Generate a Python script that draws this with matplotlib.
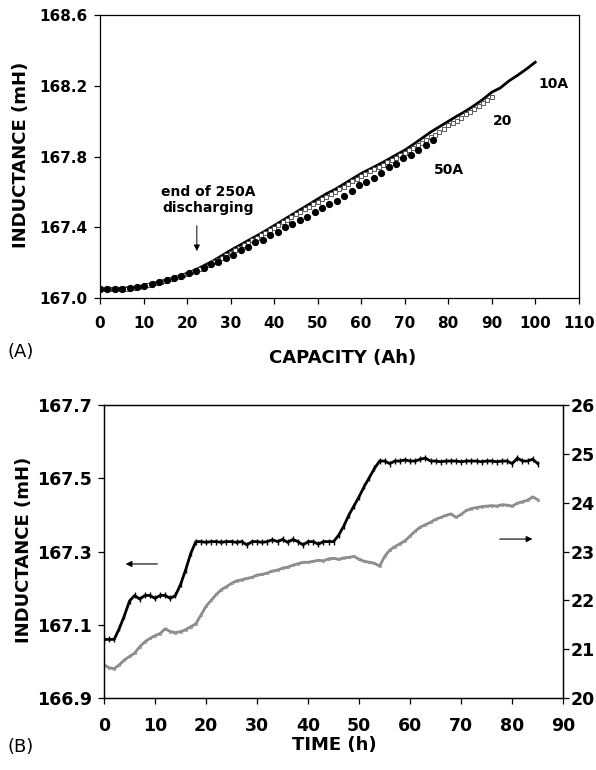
import numpy as np
import matplotlib
matplotlib.use("Agg")
from matplotlib import pyplot as plt

plt.rcParams['font.family'] = ['DejaVu Sans']

# ---- (A) inductance vs discharged capacity ----
cap_10A = np.arange(0, 101, 2)
ind_10A = [167.055, 167.055, 167.055, 167.057, 167.062, 167.070, 167.082, 167.095,
           167.108, 167.123, 167.140, 167.160, 167.185, 167.210, 167.240, 167.270,
           167.297, 167.325, 167.352, 167.380, 167.410, 167.440, 167.470, 167.500,
           167.530, 167.560, 167.590, 167.615, 167.645, 167.675, 167.705, 167.730,
           167.755, 167.782, 167.810, 167.837, 167.870, 167.905, 167.940, 167.970,
           168.000, 168.030, 168.058, 168.090, 168.125, 168.165, 168.190, 168.230,
           168.262, 168.297, 168.335]

cap_20A = np.arange(0, 91, 1)
ind_20A = [167.050, 167.050, 167.050, 167.050, 167.050, 167.052, 167.053, 167.055,
           167.058, 167.062, 167.067, 167.073, 167.079, 167.085, 167.092, 167.099,
           167.106, 167.113, 167.120, 167.128, 167.137, 167.146, 167.156, 167.166,
           167.177, 167.189, 167.201, 167.214, 167.228, 167.242, 167.256, 167.270,
           167.284, 167.298, 167.312, 167.326, 167.340, 167.354, 167.368, 167.383,
           167.398, 167.413, 167.428, 167.443, 167.458, 167.473, 167.488, 167.502,
           167.516, 167.530, 167.545, 167.560, 167.574, 167.588, 167.602, 167.616,
           167.630, 167.645, 167.660, 167.675, 167.690, 167.704, 167.717, 167.730,
           167.743, 167.756, 167.769, 167.782, 167.795, 167.808, 167.822, 167.836,
           167.850, 167.865, 167.880, 167.895, 167.910, 167.925, 167.940, 167.955,
           167.980, 167.992, 168.005, 168.022, 168.040, 168.055, 168.070, 168.087,
           168.104, 168.122, 168.140]

cap_50A = np.arange(0, 77, 1.7)
ind_50A = [167.050, 167.050, 167.050, 167.050, 167.055, 167.060, 167.070, 167.080,
           167.090, 167.100, 167.115, 167.125, 167.140, 167.155, 167.170, 167.190,
           167.205, 167.225, 167.245, 167.270, 167.290, 167.315, 167.330, 167.355,
           167.375, 167.400, 167.420, 167.440, 167.460, 167.485, 167.510, 167.535,
           167.550, 167.575, 167.605, 167.640, 167.655, 167.680, 167.710, 167.740,
           167.760, 167.790, 167.810, 167.840, 167.865, 167.895]

# ---- (B) inductance and temperature vs time ----
time_h = np.arange(0, 86, 1)
ind_b = [167.060, 167.060, 167.060, 167.090, 167.125, 167.165, 167.180, 167.170,
         167.180, 167.180, 167.172, 167.180, 167.180, 167.172, 167.180, 167.210,
         167.250, 167.295, 167.327, 167.327, 167.325, 167.327, 167.327, 167.325,
         167.327, 167.327, 167.325, 167.327, 167.318, 167.327, 167.327, 167.325,
         167.327, 167.332, 167.327, 167.333, 167.325, 167.333, 167.327, 167.318,
         167.327, 167.327, 167.320, 167.327, 167.327, 167.327, 167.345, 167.370,
         167.400, 167.425, 167.450, 167.478, 167.502, 167.527, 167.547, 167.547,
         167.540, 167.547, 167.547, 167.550, 167.547, 167.547, 167.552, 167.555,
         167.547, 167.547, 167.545, 167.547, 167.547, 167.547, 167.545, 167.547,
         167.547, 167.547, 167.545, 167.547, 167.547, 167.545, 167.547, 167.547,
         167.540, 167.555, 167.547, 167.547, 167.552, 167.540]
temp_b = [20.68, 20.62, 20.60, 20.68, 20.78, 20.85, 20.92, 21.05, 21.15, 21.22,
          21.28, 21.32, 21.42, 21.36, 21.34, 21.36, 21.40, 21.46, 21.52, 21.70,
          21.88, 22.00, 22.12, 22.22, 22.28, 22.35, 22.40, 22.42, 22.45, 22.47,
          22.52, 22.53, 22.56, 22.60, 22.62, 22.66, 22.68, 22.72, 22.75, 22.78,
          22.78, 22.80, 22.82, 22.81, 22.85, 22.86, 22.84, 22.87, 22.88, 22.90,
          22.84, 22.80, 22.78, 22.76, 22.70, 22.90, 23.03, 23.10, 23.16, 23.22,
          23.32, 23.42, 23.50, 23.55, 23.60, 23.66, 23.70, 23.74, 23.77, 23.70,
          23.76, 23.84, 23.88, 23.90, 23.92, 23.93, 23.94, 23.93, 23.96, 23.95,
          23.93, 23.99, 24.02, 24.05, 24.12, 24.06]

fig = plt.figure(figsize=(5.96, 7.70), dpi=100)


def style_axis(ax, size, xpad, ypad):
    for sp in ax.spines.values():
        sp.set_linewidth(0.9)
    ax.tick_params(direction='out', length=4, width=0.9, labelsize=size)
    ax.tick_params(axis='x', pad=xpad)
    ax.tick_params(axis='y', pad=ypad)
    for lab in ax.get_xticklabels() + ax.get_yticklabels():
        lab.set_fontweight('bold')


# panel A
axA = fig.add_axes([0.1678, 0.613, 0.8032, 0.3669])
axA.plot(cap_10A, ind_10A, '-', color='black', lw=2.0)
axA.plot(cap_20A, ind_20A, 's', ms=3.2, mfc='white', mec='#404040', mew=0.6)
axA.plot(cap_50A, ind_50A, 'o', ms=4.2, color='black')
axA.set_xlim(0, 110)
axA.set_ylim(167.0, 168.6)
axA.set_xticks(np.arange(0, 111, 10))
axA.set_yticks([167.0, 167.4, 167.8, 168.2, 168.6])
axA.set_yticklabels(['167.0', '167.4', '167.8', '168.2', '168.6'])
style_axis(axA, 11, 9, 5)
axA.set_xlabel('CAPACITY (Ah)', fontsize=13, fontweight='bold', va='center')
axA.xaxis.set_label_coords(0.507, -0.212)
axA.set_ylabel('INDUCTANCE (mH)', fontsize=13, fontweight='bold', va='center')
axA.yaxis.set_label_coords(-0.165, 0.506)

axA.annotate('', xy=(22.25, 167.25), xytext=(22.25, 167.425),
             arrowprops=dict(arrowstyle='-|>', color='black', lw=0.7,
                             mutation_scale=9))
axA.text(24.9, 167.555, 'end of 250A\ndischarging', ha='center', va='center',
         fontsize=10, fontweight='bold', linespacing=1.1)
axA.text(104.1, 168.21, '10A', ha='center', va='center', fontsize=10, fontweight='bold')
axA.text(92.45, 168.0, '20', ha='center', va='center', fontsize=10, fontweight='bold')
axA.text(80.2, 167.725, '50A', ha='center', va='center', fontsize=10, fontweight='bold')
fig.text(0.013, 0.543, '(A)', fontsize=13, ha='left', va='center')

# panel B
axB = fig.add_axes([0.1745, 0.0935, 0.7706, 0.3805])
axB.plot(time_h, ind_b, '-', color='black', lw=2.0, marker='|', ms=4, mew=1.0)
axB.set_xlim(0, 90)
axB.set_ylim(166.9, 167.7)
axB.set_xticks(np.arange(0, 91, 10))
axB.set_yticks([166.9, 167.1, 167.3, 167.5, 167.7])
axB.set_yticklabels(['166.9', '167.1', '167.3', '167.5', '167.7'])
style_axis(axB, 12.5, 10, 4.5)
axB.set_xlabel('TIME (h)', fontsize=13, fontweight='bold', va='center')
axB.xaxis.set_label_coords(0.501, -0.160)
axB.set_ylabel('INDUCTANCE (mH)', fontsize=13, fontweight='bold', va='center')
axB.yaxis.set_label_coords(-0.175, 0.505)

axT = axB.twinx()
axT.plot(time_h, temp_b, '-', color='#8c8c8c', lw=2.0,
         marker='s', ms=2.0, mfc='#a8a8a8', mec='#808080', mew=0.4)
axT.set_ylim(20, 26)
axT.set_yticks(np.arange(20, 27, 1))
style_axis(axT, 12.5, 10, 1.5)

axB.annotate('', xy=(3.7, 167.266), xytext=(11.0, 167.266),
             arrowprops=dict(arrowstyle='-|>', color='black', lw=0.8,
                             mutation_scale=9))
axB.annotate('', xy=(84.5, 167.334), xytext=(77.0, 167.334),
             arrowprops=dict(arrowstyle='-|>', color='black', lw=0.8,
                             mutation_scale=9))
fig.text(0.013, 0.030, '(B)', fontsize=13, ha='left', va='center')

fig.savefig('out.png', dpi=100)
